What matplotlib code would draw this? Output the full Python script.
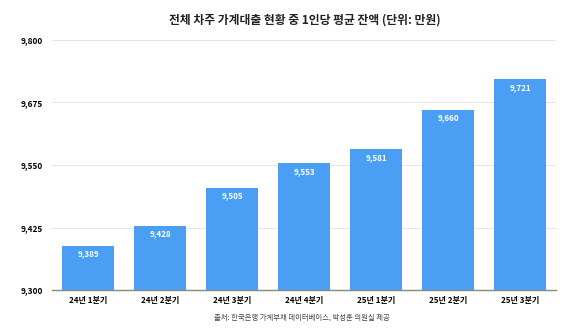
import matplotlib
matplotlib.use("Agg")
import matplotlib.pyplot as plt

plt.rcParams['font.family'] = ['Noto Sans CJK KR', 'DejaVu Sans']

quarters = ["24년 1분기", "24년 2분기", "24년 3분기", "24년 4분기", "25년 1분기", "25년 2분기", "25년 3분기"]
balance = [9389, 9428, 9505, 9553, 9581, 9660, 9721]
yticks = [9300, 9425, 9550, 9675, 9800]

bar_color = "#4a9ff5"

fig = plt.figure(figsize=(5.8, 3.3), dpi=100)
ax = fig.add_axes([0.0897, 0.121, 0.869, 0.758])

x = range(len(quarters))
bars = ax.bar(x, balance, width=0.71, color=bar_color, zorder=2)
for b, v in zip(bars, balance):
    ax.text(b.get_x() + b.get_width() / 2, v - 7, f"{v:,}", ha="center", va="top",
            color="white", fontsize=5.8, fontweight="bold", zorder=3)

ax.set_ylim(9300, 9800)
ax.set_xlim(-0.5, len(quarters) - 0.5)
ax.set_yticks(yticks)
ax.set_yticklabels([f"{t:,}" for t in yticks], fontsize=6, fontweight="bold")
ax.set_xticks(list(x))
ax.set_xticklabels(quarters, fontsize=5.8, fontweight="bold")
ax.tick_params(length=0)
ax.tick_params(axis="x", pad=4)
ax.tick_params(axis="y", pad=6.5)
ax.yaxis.grid(True, color="#e6e6e6", linewidth=0.8, zorder=0)
for s in ["top", "right", "left"]:
    ax.spines[s].set_visible(False)
ax.spines["bottom"].set_color("#888888")
ax.spines["bottom"].set_linewidth(1.0)

# title and source are centred over the plot area
fig.text(0.525, 0.94, "전체 차주 가계대출 현황 중 1인당 평균 잔액 (단위: 만원)", ha="center", va="center",
         fontsize=8.5, fontweight="bold", color="#222222")
fig.text(0.52, 0.037, "출처: 한국은행 가계부채 데이터베이스, 박성훈 의원실 제공", ha="center", va="center",
         fontsize=5.3, color="#444444")

fig.savefig("out.png", dpi=100)
